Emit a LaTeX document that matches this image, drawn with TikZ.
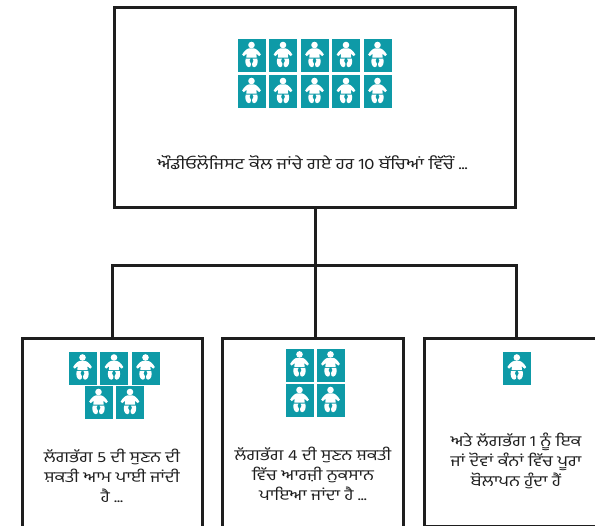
\documentclass[tikz,border=0pt]{standalone}
\usepackage{fontspec}
\newfontfamily\pafont[Script=Gurmukhi,FakeStretch=1.2]{Hind Jalandhar}
\definecolor{tile}{HTML}{0E9AA7}
\definecolor{ink}{HTML}{1E1E1E}
\tikzset{
  x=1pt,y=-1pt,
  boxy/.style={draw=ink,line width=3pt,fill=white,rectangle,anchor=north west,inner sep=0pt,outer sep=0pt},
  wire/.style={draw=ink,line width=3pt},
  label/.style={font=\pafont\fontsize{15}{20}\selectfont,text=ink,align=center,inner sep=0pt,anchor=center},
  toplabel/.style={label,font=\pafont\fontsize{15.4}{20}\selectfont},
  baby/.pic={
    \fill[tile] (-14,-16.5) rectangle (14,16.5);
    \fill[white] (0,-10.8) circle (3.3);
    \fill[white] (-2.6,-7.4) -- (2.6,-7.4) .. controls (5,-7) and (7.5,-4.4) .. (9.4,-1.2)
      -- (7.8,0.4) .. controls (6.8,-0.8) and (5.8,-1.6) .. (4.8,-2.1) -- (5.2,1.8) -- (-5.2,1.8) -- (-4.8,-2.1)
      .. controls (-5.8,-1.6) and (-6.8,-0.8) .. (-7.8,0.4) -- (-9.4,-1.2) .. controls (-7.5,-4.4) and (-5,-7) .. (-2.6,-7.4) -- cycle;
    \fill[white] (-5.8,2.8) -- (-1,2.8) -- (-2,5) .. controls (-2.2,6) and (-0.6,6.4) .. (-0.5,8)
      .. controls (-0.4,10.2) and (-1.2,11.4) .. (-2.6,11.4) .. controls (-5.4,11.4) and (-7,6.5) .. (-5.8,2.8) -- cycle;
    \fill[white] (5.8,2.8) -- (1,2.8) -- (2,5) .. controls (2.2,6) and (0.6,6.4) .. (0.5,8)
      .. controls (0.4,10.2) and (1.2,11.4) .. (2.6,11.4) .. controls (5.4,11.4) and (7,6.5) .. (5.8,2.8) -- cycle;
  }
}
\begin{document}
\begin{tikzpicture}
\useasboundingbox (0,0) rectangle (595,526);
\node[boxy,minimum width=401.4pt,minimum height=199.3pt] (top) at (114.3,8) {};
\node[boxy,minimum width=180.5pt,minimum height=220pt] (left) at (22,338.3) {};
\node[boxy,minimum width=180.5pt,minimum height=220pt] (mid) at (222.6,338.3) {};
\node[boxy,minimum width=220pt,minimum height=188.7pt] (right) at (424.6,338.3) {};
\coordinate (hub) at (315.8,266);
\coordinate (hubL) at (112.8,266);
\coordinate (hubR) at (516,266);
\draw[wire] (top.south -| hub) -- (hub);
\draw[wire,line cap=rect] (hubL) -- (hubR);
\draw[wire] (hubL) -- (hubL |- left.north);
\draw[wire] (hub) -- (hub |- mid.north);
\draw[wire] (hubR) -- (hubR |- right.north);
\foreach \px in {251.5,283,314.5,346,377.5}{
  \pic at (\px,55.8) {baby};
  \pic at (\px,91.8) {baby};
}
\foreach \px in {82.5,114,145.5}{\pic at (\px,368.3) {baby};}
\foreach \px in {98.5,130}{\pic at (\px,402.8) {baby};}
\foreach \px in {299.5,330.5}{
  \pic at (\px,365.2) {baby};
  \pic at (\px,400.8) {baby};
}
\pic at (516.8,368.3) {baby};
\node[toplabel] (toptext) at (312.5,163) {ਔਡੀਓਲੋਜਿਸਟ ਕੋਲ ਜਾਂਚੇ ਗਏ ਹਰ 10 ਬੱਚਿਆਂ ਵਿੱਚੋਂ ...};
\node[label] (lefttext) at (112,476) {ਲੱਗਭੱਗ 5 ਦੀ ਸੁਣਨ ਦੀ\\ਸ਼ਕਤੀ ਆਮ ਪਾਈ ਜਾਂਦੀ\\ਹੈ ...};
\node[label] (midtext) at (313,474) {ਲੱਗਭੱਗ 4 ਦੀ ਸੁਣਨ ਸ਼ਕਤੀ\\ਵਿੱਚ ਆਰਜ਼ੀ ਨੁਕਸਾਨ\\ਪਾਇਆ ਜਾਂਦਾ ਹੈ ...};
\node[label] (righttext) at (516,461) {ਅਤੇ ਲੱਗਭੱਗ 1 ਨੂੰ ਇਕ\\ਜਾਂ ਦੋਵਾਂ ਕੰਨਾਂ ਵਿੱਚ ਪੂਰਾ\\ਬੋਲਾਪਨ ਹੁੰਦਾ ਹੈਂ};
\end{tikzpicture}
\end{document}
